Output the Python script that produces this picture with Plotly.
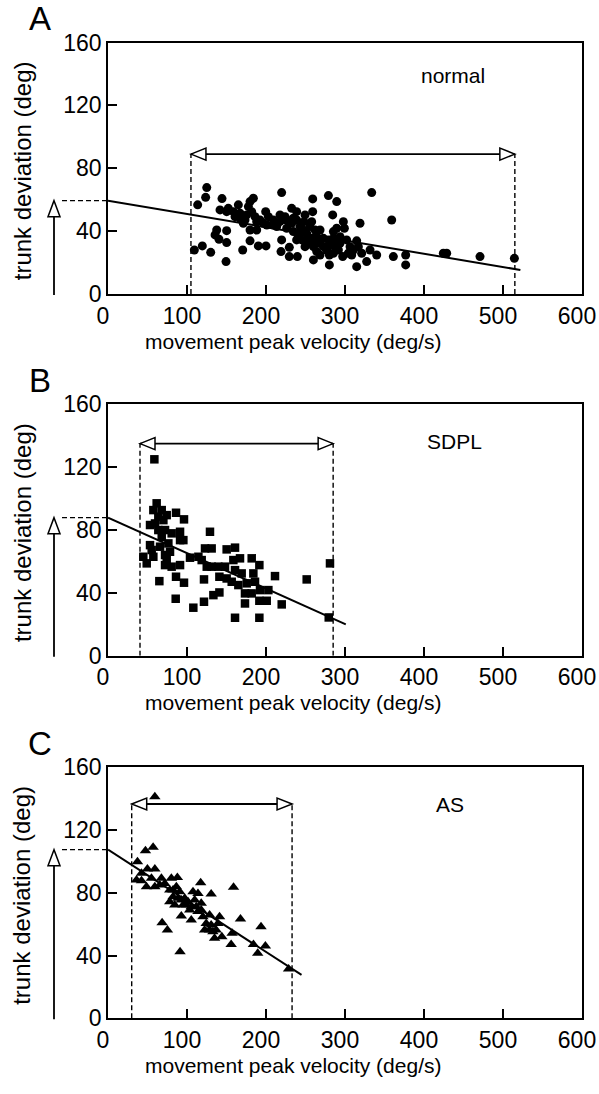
import plotly.graph_objects as go

# ---------------- data ----------------
# Panel A: normal (circles)
a_x = [125, 123.6, 113.5, 109.3, 119.4, 130, 149.4, 144.3, 141.8, 152.3, 150.2, 165, 137.6, 150.2, 135.5,
       140.5, 150.2, 170.5, 179.8, 190.3, 200, 184, 179.8, 177.7, 167.1, 175.5, 181.9, 186.1, 188.2, 179.8,
       188.2, 199.6, 203, 209.3, 196.6, 219.8, 217.7, 219.8, 219, 229.5, 229.5, 239.7, 232.5, 238.8, 249.4,
       259.1, 259.1, 226.2, 234.6, 243, 241, 251.5, 257.8, 260, 268.4, 249.4, 260, 260, 268.4, 279,
       289.5, 284.4, 279, 285.3, 276.8, 280.2, 280.2, 289.5, 297.9, 299.2, 293.7, 297.1, 304.2, 308.5, 314.8,
       319, 316.9, 321.1, 314.8, 327.4, 333.8, 331.7, 340.1, 359.1, 361.2, 376.8, 376.8, 428.7, 424.5, 470.9,
       514.4, 209.3, 213.5, 226.2, 232.5, 238.8, 243, 247.3, 253.6, 264.2, 266.4, 272.7, 272.7, 281.1, 287.5,
       264.2, 268.4, 285.3, 291.6, 306.4, 310.6, 217.7, 224.1, 234.6, 248.1, 255.7, 262.1, 251.5, 257.8, 245.2,
       238.8, 285.3, 293.7, 302.1, 285.3, 201, 192.4, 171.3, 167.1, 158.7, 160.8, 173.4]
a_y = [67.7, 61.5, 56.7, 28, 30.6, 26.5, 20.6, 60.7, 53.5, 54.5, 52.4, 56.7, 40.7, 40.3, 37.6,
       34.8, 32.7, 28, 33.8, 30.6, 30.6, 60.9, 58.8, 55.6, 48.2, 50.3, 52.4, 49.2, 46, 40.7,
       40.7, 52.4, 49.2, 43.9, 45, 64.5, 46, 34.4, 27, 29.7, 23.8, 23.8, 54.5, 52.4, 50.3,
       60.5, 52.4, 41.8, 39.7, 42.9, 36.5, 38.6, 46, 35.4, 40.7, 30.1, 30.1, 21.7, 32.3, 62.6,
       58.8, 50.3, 34.4, 33.3, 28, 24.8, 18.5, 41.8, 46, 41.8, 32.3, 23.8, 25.9, 24.8, 33.8,
       45, 30.1, 25.9, 17.4, 20.6, 64.5, 28, 24.8, 47.1, 23.8, 24.8, 18.5, 25.9, 25.9, 23.8,
       22.7, 47.1, 42.9, 47.1, 45, 47.1, 38.6, 40.7, 35.4, 36.5, 33.3, 35.4, 30.1, 31.2, 30.1,
       27, 24.8, 25.9, 28, 30.1, 28, 50.3, 49.2, 48.2, 46, 42.9, 40.7, 34.4, 32.3, 34.4,
       34.4, 39.7, 36.5, 34.4, 35.4, 43.9, 47.1, 45, 51.4, 52.4, 49.2, 47.1]

# Panel B: SDPL (squares)
b_x = [58.7, 61.6, 57.4, 68, 63.7, 53.2, 59.5, 70.1, 74.3, 86.1, 96.2, 63.7, 72.2, 80.6, 91.2,
       91.2, 68, 76.4, 53.2, 44.7, 49, 57.4, 55.3, 72.2, 78.5, 72.2, 80.6, 91.2, 65, 86.1,
       96.2, 85.7, 103.8, 114.4, 108, 122.8, 131.2, 129.1, 118.6, 125, 131.2, 121.5, 121.5, 133.4, 141,
       141, 148.1, 150.2, 160.8, 158.7, 167.1, 181.9, 191.6, 160.8, 169.2, 184, 150.2, 156.6, 165, 175.6,
       186.1, 173.4, 181.9, 192.4, 203, 191.6, 200.9, 173.4, 160.8, 191.6, 211.4, 219.9, 251.5, 281, 279.4,
       139.7, 95.4, 65.9, 74.3]
b_y = [125, 97, 92.7, 92.7, 88.5, 83.2, 84.2, 86.3, 89.5, 91, 86.8, 80, 80, 77.9, 78.9,
       73.6, 75.7, 71.5, 70.4, 63, 58.8, 63, 67.3, 64.1, 66.2, 57.7, 56.7, 57.7, 47.5, 50.3,
       46.5, 36.3, 62.4, 63, 30.6, 68.3, 68.3, 78.9, 60.9, 56.7, 56.7, 48.6, 34.4, 38.6, 40.3,
       50.3, 56.7, 67.7, 68.8, 60.9, 62, 62, 57.7, 54.5, 52.4, 52.4, 49.2, 47.1, 45, 46.1,
       47.1, 39.7, 39.7, 41.8, 41.8, 35, 35, 33.3, 24.2, 24.2, 50.7, 32.7, 48.6, 58.8, 24.4,
       56.7, 73.6, 69.4, 60.9]

# Panel C: AS (triangles)
c_x = [59.3, 57.1, 47.4, 37.3, 49.9, 59.3, 42.4, 36.1, 42.4, 55, 48.7, 59.3, 67.6, 65.6, 71.9,
       80.2, 87.8, 78.2, 82.3, 78.2, 86.5, 90.8, 92.8, 84.5, 97.1, 99.1, 107.6, 109.7, 103.4, 92.8,
       105.4, 117.3, 113.9, 118, 113.9, 120.2, 130.6, 128.6, 122.3, 130.6, 132.8, 141.2, 139.1, 134.9, 144.1,
       68.5, 75.2, 91.2, 157.1, 155.9, 158.9, 167.7, 193.7, 184.1, 199.2, 189.5, 228.6, 82.3, 88.7, 95,
       101.3, 105.4, 111.7, 118, 124.3, 128.6, 136.9]
c_y = [141.2, 109, 106.8, 99.8, 95.2, 95.2, 92.4, 88.1, 87.7, 89.2, 83.9, 83.9, 89.2, 85, 86,
       89.2, 89.8, 81.8, 77.5, 74.3, 83.9, 80.7, 75.4, 72.2, 76.5, 72.2, 80.7, 75.4, 69, 65.2,
       62.6, 86.4, 79.6, 73.3, 68, 64.8, 79.2, 65.8, 56.3, 59.5, 55.2, 64.8, 60.5, 51, 52,
       60.9, 56.3, 42.5, 54.2, 47.1, 83.5, 63.3, 58.4, 47.1, 46.1, 41.4, 31.4, 81.8, 76.5, 72.2,
       74.3, 71.1, 71.1, 69, 60.5, 56.3, 56.3]

# regression lines: intercept, slope, x-end
reg_intercept = [59.4, 87.9, 107.5]
reg_slope = [-0.0845, -0.2256, -0.326]
reg_xend = [522, 301, 245]

# velocity ranges (double arrow) and their height
range_lo = [105, 40.5, 30]
range_hi = [515, 285, 233]
range_y = [89, 135, 136.6]

group_labels = ["normal", "SDPL", "AS"]
label_x = [437, 439, 433]
label_y = [138.7, 136.6, 136]
panel_letters = ["A", "B", "C"]

x_ticks = [0, 100, 200, 300, 400, 500, 600]
y_ticks = [0, 40, 80, 120, 160]
x_title = "movement peak velocity (deg/s)"
y_title = "trunk deviation (deg)"

# ---------------- layout geometry ----------------
W, H = 599, 1094
ML, MR = 108, 17
PW = W - ML - MR
panel_px = [(42.5, 294.0), (404.3, 655.8), (767.3, 1018.3)]  # top, bottom pixels
ydomains = [[1 - b / H, 1 - t / H] for (t, b) in panel_px]


def px_to_xpaper(px):
    return (px - ML) / PW


def px_to_ypaper(py):
    return 1 - py / H


FONT = "Liberation Sans, Arial, sans-serif"
fig = go.Figure()

series = [(a_x, a_y, "circle", 9), (b_x, b_y, "square", 8.5), (c_x, c_y, "triangle-up", 10)]
shapes = []
annotations = []

for i in range(3):
    xa = "x" if i == 0 else f"x{i+1}"
    ya = "y" if i == 0 else f"y{i+1}"
    xs, ys, sym, sz = series[i]
    fig.add_trace(go.Scatter(x=xs, y=ys, mode="markers", xaxis=xa, yaxis=ya,
                             marker=dict(symbol=sym, size=sz, color="black", line=dict(width=0)),
                             showlegend=False, cliponaxis=False))
    # regression line
    rx = [0, reg_xend[i]]
    ry = [reg_intercept[i] + reg_slope[i] * v for v in rx]
    fig.add_trace(go.Scatter(x=rx, y=ry, mode="lines", xaxis=xa, yaxis=ya,
                             line=dict(color="black", width=2), showlegend=False))

    lo, hi, hy = range_lo[i], range_hi[i], range_y[i]
    dash = dict(color="black", width=1.4, dash="5px,3px")
    # vertical dashed range bounds
    for xv in (lo, hi):
        shapes.append(dict(type="line", xref=xa, yref=ya, x0=xv, x1=xv, y0=0, y1=hy, line=dash))
    # horizontal double arrow
    shapes.append(dict(type="line", xref=xa, yref=ya, x0=lo, x1=hi, y0=hy, y1=hy,
                       line=dict(color="black", width=1.8)))
    shapes.append(dict(type="path", xref=xa, yref=ya, xsizemode="pixel", ysizemode="pixel",
                       xanchor=lo, yanchor=hy, path="M0,0 L15,6 L15,-6 Z",
                       fillcolor="white", line=dict(color="black", width=1.5)))
    shapes.append(dict(type="path", xref=xa, yref=ya, xsizemode="pixel", ysizemode="pixel",
                       xanchor=hi, yanchor=hy, path="M0,0 L-15,6 L-15,-6 Z",
                       fillcolor="white", line=dict(color="black", width=1.5)))

    # left-side intercept marker: dashed horizontal + vertical arrow (paper coords)
    top_px, bot_px = panel_px[i]
    yscale = (bot_px - top_px) / 160.0
    icpt_px = bot_px - reg_intercept[i] * yscale
    y_icpt = px_to_ypaper(icpt_px)
    shapes.append(dict(type="line", xref="paper", yref="paper",
                       x0=px_to_xpaper(62), x1=0, y0=y_icpt, y1=y_icpt, line=dash))
    arrow_x = px_to_xpaper(54)
    shapes.append(dict(type="line", xref="paper", yref="paper", x0=arrow_x, x1=arrow_x,
                       y0=px_to_ypaper(bot_px + 1), y1=y_icpt - 14 / H,
                       line=dict(color="black", width=1.8)))
    shapes.append(dict(type="path", xref="paper", yref="paper", xsizemode="pixel", ysizemode="pixel",
                       xanchor=arrow_x, yanchor=y_icpt, path="M0,0 L-6,-16 L6,-16 Z",
                       fillcolor="white", line=dict(color="black", width=1.5)))

    # group label
    annotations.append(dict(text=group_labels[i], x=label_x[i], y=label_y[i], xref=xa, yref=ya,
                            xanchor="center", yanchor="middle",
                            showarrow=False, font=dict(size=21, family=FONT, color="black")))
    # panel letter
    annotations.append(dict(text=panel_letters[i], x=px_to_xpaper(40), y=px_to_ypaper(top_px - 24),
                            xref="paper", yref="paper", showarrow=False,
                            xanchor="center", yanchor="middle",
                            font=dict(size=33, family=FONT, color="black")))
    # axis titles
    annotations.append(dict(text=x_title, x=px_to_xpaper(293), y=px_to_ypaper(bot_px + 47),
                            xref="paper", yref="paper", showarrow=False,
                            xanchor="center", yanchor="middle",
                            font=dict(size=21, family=FONT, color="black")))
    annotations.append(dict(text=y_title, x=px_to_xpaper(22), y=px_to_ypaper((top_px + bot_px) / 2 + 3),
                            xref="paper", yref="paper", showarrow=False, textangle=-90,
                            xanchor="center", yanchor="middle",
                            font=dict(size=24, family=FONT, color="black")))

axis_common = dict(showline=True, linecolor="black", linewidth=1.8, mirror=True,
                   ticks="inside", ticklen=9, tickwidth=1.5, tickcolor="black",
                   showgrid=False, zeroline=False, fixedrange=True,
                   tickfont=dict(size=23, family=FONT, color="black"))

layout = dict(width=W, height=H, margin=dict(l=ML, r=MR, t=0, b=0),
              paper_bgcolor="white", plot_bgcolor="white",
              shapes=shapes, annotations=annotations, showlegend=False)
for i in range(3):
    sx = "" if i == 0 else str(i + 1)
    layout["xaxis" + sx] = dict(axis_common, domain=[0, 1], range=[0, 600], tickvals=x_ticks,
                                anchor="y" + sx, automargin=False, ticklabeloverflow="allow",
                                ticklabelshift=-5)
    layout["yaxis" + sx] = dict(axis_common, domain=ydomains[i], range=[0, 160], tickvals=y_ticks,
                                anchor="x" + sx, automargin=False, ticklabeloverflow="allow")
fig.update_layout(**layout)

fig.write_html("out.html", post_script="document.body.style.margin='0';",
               config={"displayModeBar": False})
